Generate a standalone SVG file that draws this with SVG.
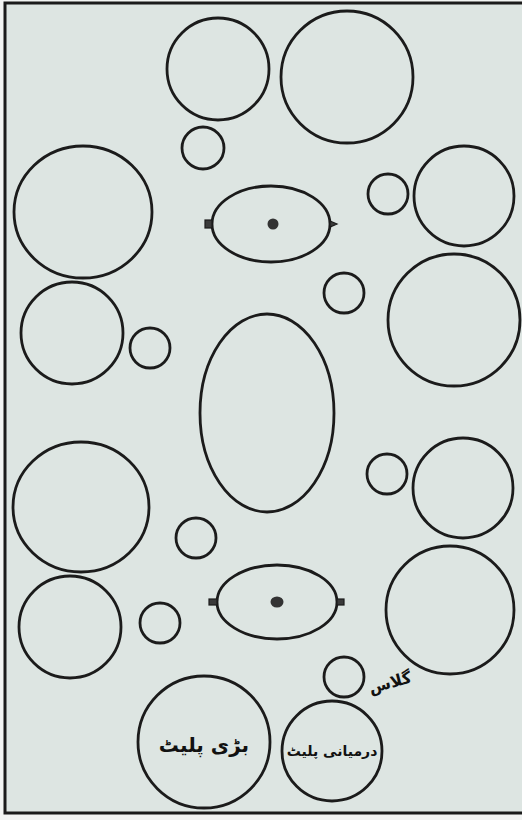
<svg xmlns="http://www.w3.org/2000/svg" width="522" height="820" viewBox="0 0 522 820">
<style>
.c{fill:none;stroke:#1b1b1b;stroke-width:2.8}
.k{fill:#3a3a3a;stroke:#1b1b1b;stroke-width:1.2}
.t{font-family:"DejaVu Sans","Noto Sans",sans-serif;font-weight:bold;fill:#111;text-anchor:middle;direction:rtl}
</style>
<rect x="0" y="0" width="522" height="820" fill="#f2f4f3"/>
<rect x="5" y="3" width="530" height="810" fill="#dde5e2" stroke="#1b1b1b" stroke-width="3"/>
<g id="circle-top-left"><circle class="c" cx="218" cy="69" r="51"/></g>
<g id="circle-top-right"><circle class="c" cx="347" cy="77" r="66"/></g>
<g id="glass-1"><circle class="c" cx="203" cy="148" r="21"/></g>
<g id="circle-left-1"><ellipse class="c" cx="83" cy="212" rx="69" ry="66"/></g>
<g id="oval-dish-top">
<ellipse class="c" cx="271" cy="224" rx="59" ry="38"/>
<rect class="k" x="205" y="220" width="7" height="8"/>
<path class="k" d="M330 221 L337 224 L330 227 Z"/>
<circle fill="#333" cx="273" cy="224" r="5.5"/>
</g>
<g id="glass-2"><circle class="c" cx="388" cy="194" r="20"/></g>
<g id="circle-right-1"><circle class="c" cx="464" cy="196" r="50"/></g>
<g id="circle-left-2"><circle class="c" cx="72" cy="333" r="51"/></g>
<g id="glass-3"><circle class="c" cx="150" cy="348" r="20"/></g>
<g id="glass-4"><circle class="c" cx="344" cy="293" r="20"/></g>
<g id="circle-right-2"><circle class="c" cx="454" cy="320" r="66"/></g>
<g id="oval-platter"><ellipse class="c" cx="267" cy="413" rx="67" ry="99"/></g>
<g id="circle-left-3"><ellipse class="c" cx="81" cy="507" rx="68" ry="65"/></g>
<g id="glass-5"><circle class="c" cx="387" cy="474" r="20"/></g>
<g id="circle-right-3"><circle class="c" cx="463" cy="488" r="50"/></g>
<g id="glass-6"><circle class="c" cx="196" cy="538" r="20"/></g>
<g id="circle-right-4"><circle class="c" cx="450" cy="610" r="64"/></g>
<g id="circle-left-4"><circle class="c" cx="70" cy="627" r="51"/></g>
<g id="glass-7"><circle class="c" cx="160" cy="623" r="20"/></g>
<g id="oval-dish-bottom">
<ellipse class="c" cx="277" cy="602" rx="60" ry="37"/>
<rect class="k" x="209" y="599" width="8" height="6"/>
<rect class="k" x="337" y="599" width="7" height="6"/>
<ellipse fill="#333" cx="277" cy="602" rx="6.5" ry="5.5"/>
</g>
<g id="glass-labelled">
<circle class="c" cx="344" cy="677" r="20"/>
<text class="t" x="390" y="688" font-size="16" transform="rotate(-15 390 682)">گلاس</text>
</g>
<g id="big-plate">
<circle class="c" cx="204" cy="742" r="66"/>
<text class="t" x="204" y="752" font-size="20">بڑی پلیٹ</text>
</g>
<g id="medium-plate">
<circle class="c" cx="332" cy="751" r="50"/>
<text class="t" x="332" y="756" font-size="14" letter-spacing="-0.5">درمیانی پلیٹ</text>
</g>
</svg>
